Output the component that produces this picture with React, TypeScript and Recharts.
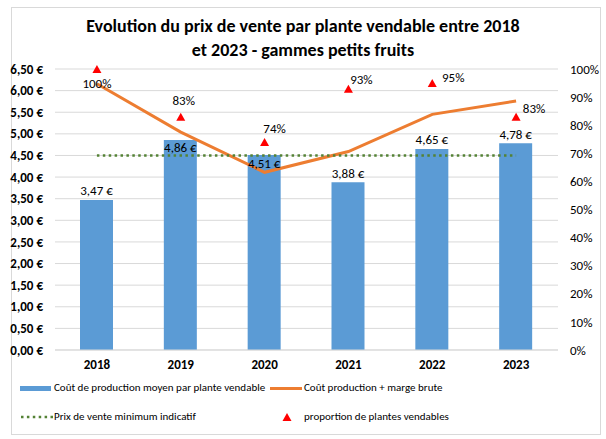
import {
  Bar,
  CartesianGrid,
  ComposedChart,
  LabelList,
  Line,
  Scatter,
  XAxis,
  YAxis,
} from "recharts";

const YEARS = ["2018", "2019", "2020", "2021", "2022", "2023"];
const PROD_COST = [3.47, 4.86, 4.51, 3.88, 4.65, 4.78];
const COST_PLUS_MARGIN = [6.16, 5.04, 4.11, 4.59, 5.45, 5.76];
const MIN_PRICE = [4.5, 4.5, 4.5, 4.5, 4.5, 4.5];
const SELLABLE_SHARE = [1.0, 0.83, 0.74, 0.93, 0.95, 0.83];
const EURO_TICKS = [0, 0.5, 1, 1.5, 2, 2.5, 3, 3.5, 4, 4.5, 5, 5.5, 6, 6.5];
const PCT_TICKS = [0, 0.1, 0.2, 0.3, 0.4, 0.5, 0.6, 0.7, 0.8, 0.9, 1];
const LEGEND_NAMES = [
  "Coût de production moyen par plante vendable",
  "Coût production + marge brute",
  "Prix de vente minimum indicatif",
  "proportion de plantes vendables",
];

const FONT = "Carlito, Lato, 'Liberation Sans Narrow', Roboto, sans-serif";
const BLUE = "#5B9BD5";
const ORANGE = "#ED7D31";
const GREEN = "#548235";
const GRID = "#D9D9D9";

// where Excel dropped the % labels around each triangle (dx, dy from the marker)
const PCT_LABEL_OFFSET = [
  [0, 14],
  [3, -16],
  [10, -14],
  [13, -9],
  [21, -6],
  [18, -8],
];
// bar labels: true = inside the top of the bar
const BAR_LABEL_INSIDE = [false, true, true, false, false, false];

const data = YEARS.map((year, i) => ({
  year,
  cost: PROD_COST[i],
  costMargin: COST_PLUS_MARGIN[i],
  minPrice: MIN_PRICE[i],
  share: SELLABLE_SHARE[i],
}));

const euro = (v: number) => v.toFixed(2).replace(".", ",") + " €";
const pct = (v: number) => `${Math.round(v * 100)}%`;

function Triangle(props: any) {
  const { cx, cy, index } = props;
  const [dx, dy] = PCT_LABEL_OFFSET[index] ?? [0, -12];
  return (
    <g>
      <polygon points={`${cx},${cy - 4} ${cx + 4.5},${cy + 4} ${cx - 4.5},${cy + 4}`} fill="#FF0000" />
      <text
        x={cx + dx}
        y={cy + dy}
        textAnchor="middle"
        dominantBaseline="central"
        fontSize={13}
        fontFamily={FONT}
        fill="#000"
      >
        {pct(props.payload.share)}
      </text>
    </g>
  );
}

function BarValue(props: any) {
  const { x, y, width, value, index } = props;
  const inside = BAR_LABEL_INSIDE[index];
  return (
    <text
      x={x + width / 2}
      y={inside ? y + 8 : y - 9}
      textAnchor="middle"
      dominantBaseline="central"
      fontSize={13}
      fontFamily={FONT}
      fill="#000"
    >
      {euro(value)}
    </text>
  );
}

function ChartLegend() {
  const row = { position: "absolute" as const, display: "flex", alignItems: "center", fontSize: 11, lineHeight: "16px" };
  return (
    <div style={{ position: "absolute", left: 0, top: 380, width: 606, height: 50, fontFamily: FONT, color: "#000" }}>
      <div style={{ ...row, left: 20, top: 0 }}>
        <span style={{ width: 31, height: 5, background: BLUE, marginRight: 3 }} />
        {LEGEND_NAMES[0]}
      </div>
      <div style={{ ...row, left: 270, top: 0 }}>
        <span style={{ width: 32, height: 3, background: ORANGE, marginRight: 2 }} />
        {LEGEND_NAMES[1]}
      </div>
      <div style={{ ...row, left: 20, top: 29 }}>
        <svg width={33} height={6}>
          <line x1={1} y1={3} x2={33} y2={3} stroke={GREEN} strokeWidth={2.5} strokeDasharray="2.5 3.4" />
        </svg>
        <span style={{ marginLeft: 1 }}>{LEGEND_NAMES[2]}</span>
      </div>
      <div style={{ ...row, left: 282, top: 29 }}>
        <svg width={22} height={10}>
          <polygon points="5,1 9.5,9 0.5,9" fill="#FF0000" />
        </svg>
        {LEGEND_NAMES[3]}
      </div>
    </div>
  );
}

export default function App() {
  return (
    <div style={{ position: "absolute", left: 0, top: 0, width: 606, height: 439, background: "#fff" }}>
      <div
        style={{
          position: "absolute",
          left: 11,
          top: 7,
          width: 588,
          height: 426,
          border: `1px solid ${GRID}`,
        }}
      />
      <div
        style={{
          position: "absolute",
          left: 0,
          top: 14,
          width: 606,
          textAlign: "center",
          fontFamily: FONT,
          fontWeight: 700,
          fontSize: 18,
          lineHeight: "24px",
          color: "#000",
        }}
      >
        Evolution du prix de vente par plante vendable entre 2018
        <br />
        et 2023 - gammes petits fruits
      </div>
      <ComposedChart
        width={606}
        height={439}
        data={data}
        margin={{ top: 69, right: 0, bottom: 0, left: 0 }}
        style={{ position: "absolute", left: 0, top: 0 }}
      >
        <CartesianGrid vertical={false} stroke={GRID} yAxisId="eur" />
        <XAxis
          dataKey="year"
          axisLine={{ stroke: GRID }}
          tickLine={false}
          tickMargin={4}
          height={89}
          tick={{ fontSize: 13, fontWeight: 700, fill: "#000", fontFamily: FONT }}
        />
        <YAxis
          yAxisId="eur"
          width={55}
          domain={[0, 6.5]}
          ticks={EURO_TICKS}
          tickFormatter={euro}
          axisLine={false}
          tickLine={false}
          tickMargin={6}
          interval={0}
          tick={{ fontSize: 13, fontWeight: 700, fill: "#000", fontFamily: FONT }}
        />
        <YAxis
          yAxisId="pct"
          orientation="right"
          width={48}
          domain={[0, 1]}
          ticks={PCT_TICKS}
          tickFormatter={pct}
          axisLine={false}
          tickLine={false}
          tickMargin={6}
          interval={0}
          tick={{ fontSize: 13, fill: "#000", fontFamily: FONT, textAnchor: "start" }}
        />
        <Bar yAxisId="eur" dataKey="cost" fill={BLUE} barSize={33} isAnimationActive={false}>
          <LabelList dataKey="cost" content={<BarValue />} />
        </Bar>
        <Line
          yAxisId="eur"
          dataKey="costMargin"
          stroke={ORANGE}
          strokeWidth={3}
          dot={false}
          isAnimationActive={false}
        />
        <Line
          yAxisId="eur"
          dataKey="minPrice"
          stroke={GREEN}
          strokeWidth={2.5}
          strokeDasharray="2.5 3.4"
          dot={false}
          isAnimationActive={false}
        />
        <Scatter yAxisId="pct" dataKey="share" shape={<Triangle />} isAnimationActive={false} />
      </ComposedChart>
      <ChartLegend />
    </div>
  );
}
